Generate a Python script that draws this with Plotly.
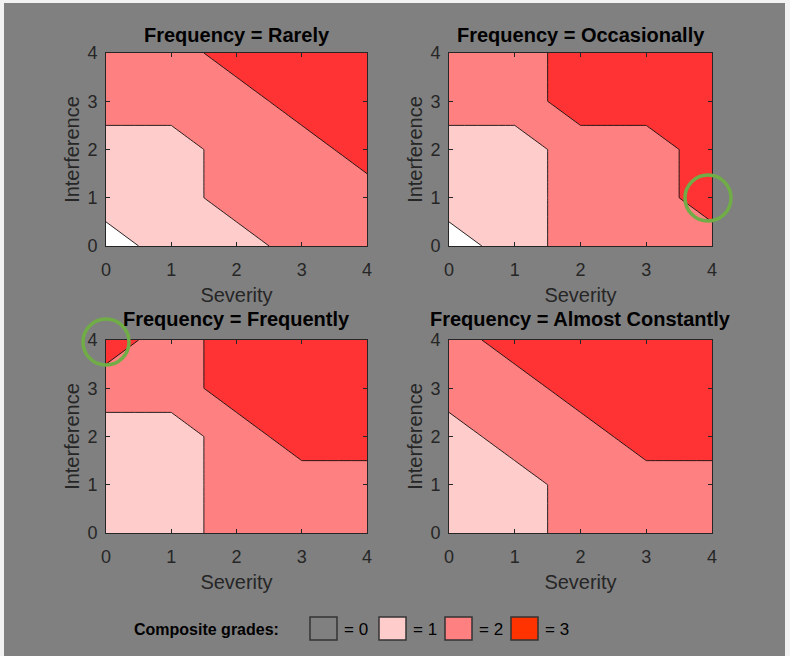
import plotly.graph_objects as go

# ---------------- data ----------------
severity = [0, 1, 2, 3, 4]
interference = [0, 1, 2, 3, 4]
tick_vals = [0, 1, 2, 3, 4]
tick_text = ["0", "1", "2", "3", "4"]

# composite grade on the grid, rows = interference 0..4, cols = severity 0..4
grades_rarely = [
    [0, 1, 1, 2, 2],
    [1, 1, 2, 2, 2],
    [1, 1, 2, 2, 3],
    [2, 2, 2, 3, 3],
    [2, 2, 3, 3, 3],
]
grades_occasionally = [
    [0, 1, 2, 2, 2],
    [1, 1, 2, 2, 3],
    [1, 1, 2, 2, 3],
    [2, 2, 3, 3, 3],
    [2, 2, 3, 3, 3],
]
grades_frequently = [
    [1, 1, 2, 2, 2],
    [1, 1, 2, 2, 2],
    [1, 1, 2, 3, 3],
    [2, 2, 3, 3, 3],
    [3, 2, 3, 3, 3],
]
grades_almost_constantly = [
    [1, 1, 2, 2, 2],
    [1, 1, 2, 2, 2],
    [1, 2, 2, 3, 3],
    [2, 2, 3, 3, 3],
    [2, 3, 3, 3, 3],
]
panel_titles = ["Frequency = Rarely", "Frequency = Occasionally",
                "Frequency = Frequently", "Frequency = Almost Constantly"]
panel_grades = [grades_rarely, grades_occasionally, grades_frequently, grades_almost_constantly]

legend_title = "Composite grades:"
legend_labels = ["= 0", "= 1", "= 2", "= 3"]
legend_colors = ["#808080", "#ffcccc", "#ff8080", "#ff3300"]

# ---------------- styling ----------------
W, H = 790, 656
BG = "#808080"
AX = "#262626"
fill_scale = [[0, "#ffffff"], [1 / 3, "#ffcccc"], [2 / 3, "#ff8080"], [1, "#ff3333"]]

# plot areas in pixels: (left, right, top, bottom)
boxes = [(106, 367, 53, 246), (449, 712, 53, 246),
         (106, 367, 340, 533), (449, 712, 340, 533)]
title_offsets = [18, 18, 21, 21]


def px_x(p):
    return p / W


def px_y(p):
    return 1 - p / H


fig = go.Figure()
layout = dict(
    width=W, height=H,
    margin=dict(l=0, r=0, t=0, b=0, autoexpand=False),
    paper_bgcolor="#f2f2f2",
    plot_bgcolor="#ffffff",
    showlegend=False,
)
annotations = []
shapes = [dict(type="rect", xref="paper", yref="paper",
               x0=px_x(4), x1=px_x(785), y0=0, y1=px_y(3),
               fillcolor=BG, line=dict(width=0), layer="below")]

for i, (title, z) in enumerate(zip(panel_titles, panel_grades)):
    k = "" if i == 0 else str(i + 1)
    l, r, t, b = boxes[i]
    fig.add_trace(go.Contour(
        x=severity, y=interference, z=z,
        xaxis="x" + k, yaxis="y" + k,
        autocontour=False,
        contours=dict(start=0.5, end=2.5, size=1, coloring="fill", showlines=True),
        line=dict(color="#111111", width=0.9, smoothing=0),
        colorscale=fill_scale, showscale=False, hoverinfo="skip",
    ))
    common = dict(range=[0, 4], tickvals=tick_vals, ticktext=tick_text,
                  showgrid=False, zeroline=False, showline=True, mirror="ticks",
                  automargin=False,
                  linecolor=AX, linewidth=1, ticks="inside", ticklen=4,
                  tickcolor=AX, tickfont=dict(family="Liberation Sans", size=18, color=AX),
                  title_font=dict(family="Liberation Sans", size=20, color=AX))
    layout["xaxis" + k] = dict(common, domain=[px_x(l), px_x(r)], anchor="y" + k,
                               title=dict(text="Severity", standoff=9),
                               ticklabelstandoff=7)
    layout["yaxis" + k] = dict(common, domain=[px_y(b), px_y(t)], anchor="x" + k,
                               title=dict(text="Interference", standoff=2),
                               ticklabelstandoff=4)
    annotations.append(dict(text="<b>" + title + "</b>", xref="paper", yref="paper",
                            x=px_x((l + r) / 2), y=px_y(t - title_offsets[i]), xanchor="center",
                            yanchor="middle", showarrow=False,
                            font=dict(family="Liberation Sans", size=20, color="#000000")))

# green highlight circles
for cx, cy in [(708, 198), (106, 342)]:
    shapes.append(dict(type="circle", xref="paper", yref="paper",
                       x0=px_x(cx - 23), x1=px_x(cx + 23), y0=px_y(cy + 23), y1=px_y(cy - 23),
                       line=dict(color="#70ad47", width=3.5)))

# legend
annotations.append(dict(text="<b>" + legend_title + "</b>", xref="paper", yref="paper",
                        x=px_x(132), y=px_y(629), xanchor="left", yanchor="middle",
                        showarrow=False,
                        font=dict(family="Liberation Sans", size=16, color="#000000")))
box_left = [310, 379, 445, 511]
for bl, lab, col in zip(box_left, legend_labels, legend_colors):
    shapes.append(dict(type="rect", xref="paper", yref="paper",
                       x0=px_x(bl), x1=px_x(bl + 27), y0=px_y(640), y1=px_y(617),
                       fillcolor=col, line=dict(color="#333333", width=1.5)))
    annotations.append(dict(text=lab, xref="paper", yref="paper",
                            x=px_x(bl + 32), y=px_y(629), xanchor="left", yanchor="middle",
                            showarrow=False,
                            font=dict(family="Liberation Sans", size=17, color="#000000")))

layout["annotations"] = annotations
layout["shapes"] = shapes
fig.update_layout(**layout)
fig.write_html("out.html", config={"displayModeBar": False},
               post_script="document.body.style.margin='0';")
